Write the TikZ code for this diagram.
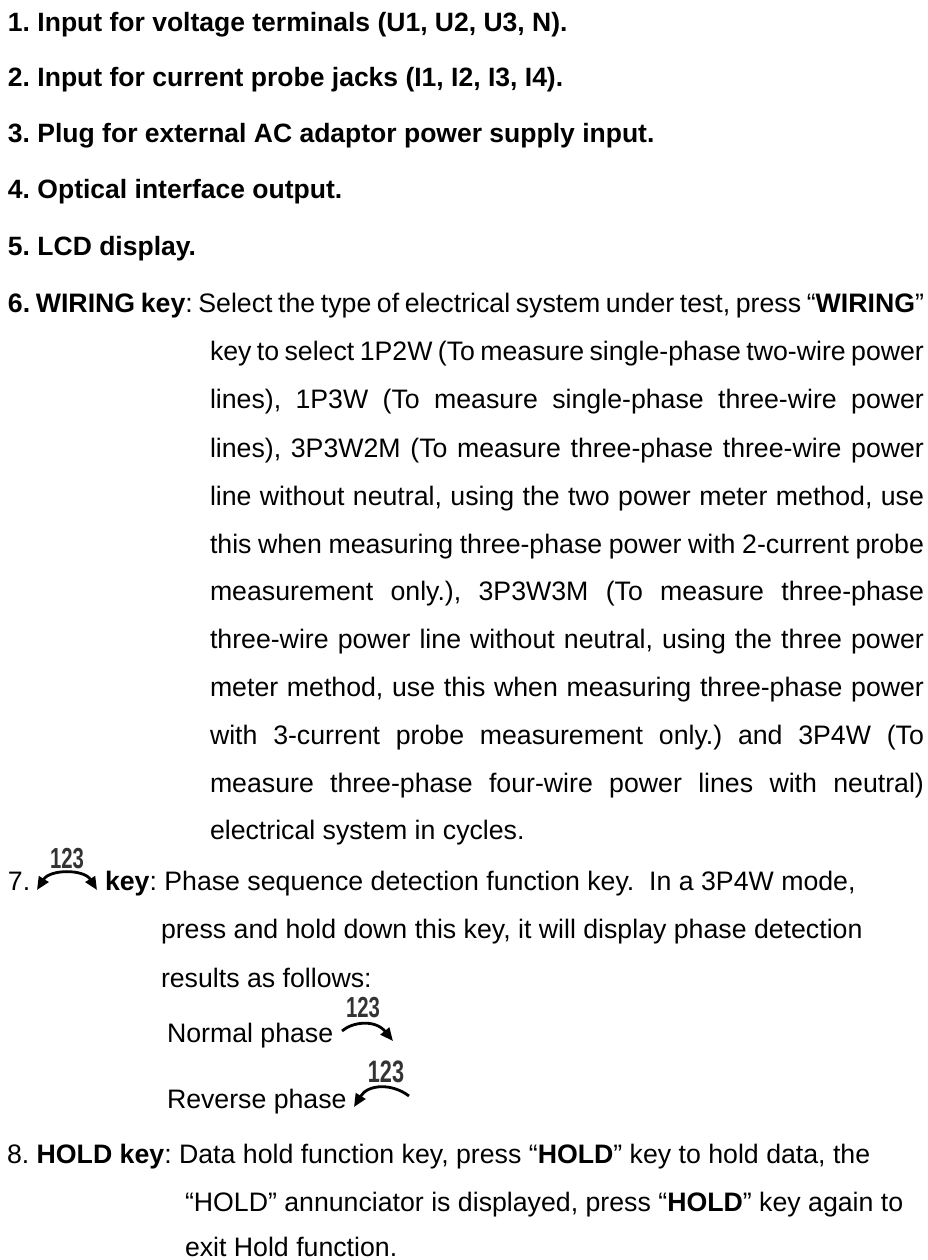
\documentclass[tikz,border=0pt]{standalone}
\usepackage{fontspec}
\setmainfont{Liberation Sans}
\usetikzlibrary{arrows.meta}
\tikzset{
  txt/.style={anchor=base west,inner sep=0pt,outer sep=0pt,font=\fontsize{26.7}{30}\selectfont\frenchspacing,text=black},
  hd/.style={txt,font=\fontsize{26.5}{30}\selectfont\frenchspacing\bfseries},
  digits/.style={anchor=south,inner sep=0pt,outer sep=0pt,text=black!80,font=\fontsize{29}{30}\selectfont\bfseries,xscale=.70},
  digitsbig/.style={digits,font=\fontsize{31}{32}\selectfont\bfseries},
  phasearc/.style={line width=2.8pt,black},
  rtip/.style={-{Triangle[length=13pt,width=11pt]}},
  ltip/.style={{Triangle[length=13pt,width=11pt]}-},
  btip/.style={{Triangle[length=13pt,width=11pt]}-{Triangle[length=13pt,width=11pt]}}
}
\newcommand{\jline}[1]{\hbox to 714pt{#1}}
\begin{document}
\begin{tikzpicture}[x=1pt,y=-1pt]
\useasboundingbox (0,0) rectangle (928,1260);
\node[hd] (h1) at (8,32) {1. Input for voltage terminals (U1, U2, U3, N).};
\node[hd] (h2) at (8,87) {2. Input for current probe jacks (I1, I2, I3, I4).};
\node[hd] (h3) at (8,143) {3. Plug for external AC adaptor power supply input.};
\node[hd] (h4) at (8,199) {4. Optical interface output.};
\node[hd] (h5) at (8,255) {5. LCD display.};
\node[txt] (w0) at (8,312) {\hbox to 916pt{\textbf{6. WIRING key}: Select the type of electrical system under test, press “\textbf{WIRING}”}};
\node[txt] (w1) at (210,360) {\jline{key to select 1P2W (To measure single-phase two-wire power}};
\node[txt] (w2) at (210,408) {\jline{lines), 1P3W (To measure single-phase three-wire power}};
\node[txt] (w3) at (210,457) {\jline{lines), 3P3W2M (To measure three-phase three-wire power}};
\node[txt] (w4) at (210,505) {\jline{line without neutral, using the two power meter method, use}};
\node[txt] (w5) at (210,553) {\jline{this when measuring three-phase power with 2-current probe}};
\node[txt] (w6) at (210,600) {\jline{measurement only.), 3P3W3M (To measure three-phase}};
\node[txt] (w7) at (210,648) {\jline{three-wire power line without neutral, using the three power}};
\node[txt] (w8) at (210,696) {\jline{meter method, use this when measuring three-phase power}};
\node[txt] (w9) at (210,744) {\jline{with 3-current probe measurement only.) and 3P4W (To}};
\node[txt] (w10) at (210,792) {\jline{measure three-phase four-wire power lines with neutral)}};
\node[txt] (w11) at (210,839) {electrical system in cycles.};
\node[txt] (p0) at (8,890) {7.};
\node[digits] (d1) at (67,868.5) {123};
\coordinate (a1l) at (37,890);
\coordinate (a1r) at (97,890);
\draw[phasearc,btip] (a1l) .. controls (50,869) and (84,869) .. (a1r);
\node[txt] (p1) at (105,890) {\textbf{key}: Phase sequence detection function key.\ \ In a 3P4W mode,};
\node[txt] (p2) at (161,938) {press and hold down this key, it will display phase detection};
\node[txt] (p3) at (161,987) {results as follows:};
\node[txt] (n1) at (167,1042) {Normal phase};
\node[digits] (d2) at (363,1017.5) {123};
\coordinate (a2l) at (342,1031);
\coordinate (a2r) at (393,1041);
\draw[phasearc,rtip] (a2l) .. controls (352,1022) and (375,1019) .. (a2r);
\node[txt] (r1) at (167,1108) {Reverse phase};
\node[digitsbig] (d3) at (386,1082.5) {123};
\coordinate (a3l) at (354,1107);
\coordinate (a3r) at (409,1096);
\draw[phasearc,ltip] (a3l) .. controls (368,1084) and (392,1083) .. (a3r);
\node[txt] (k0) at (7,1163) {8. \textbf{HOLD key}: Data hold function key, press “\textbf{HOLD}” key to hold data, the};
\node[txt] (k1) at (185,1211) {“HOLD” annunciator is displayed, press “\textbf{HOLD}” key again to};
\node[txt] (k2) at (185,1256.5) {exit Hold function.};
\end{tikzpicture}
\end{document}
